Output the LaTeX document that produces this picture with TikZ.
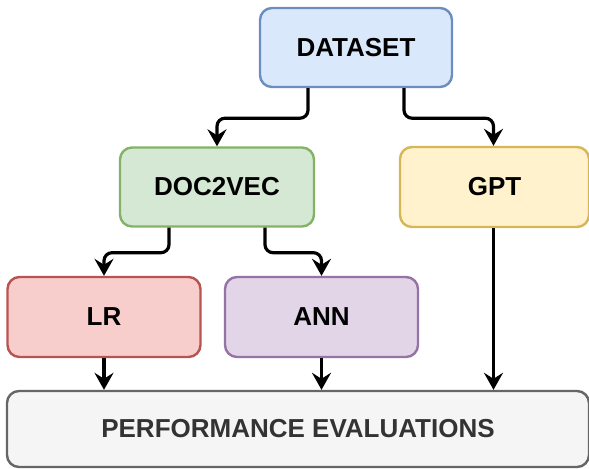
\documentclass[tikz,border=0pt]{standalone}
\usepackage{fontspec}
\setmainfont{Liberation Sans}
\usepackage{xcolor}
\usetikzlibrary{arrows.meta,calc,positioning}

\definecolor{blueF}{HTML}{DAE8FC}\definecolor{blueD}{HTML}{6C8EBF}
\definecolor{greenF}{HTML}{D5E8D4}\definecolor{greenD}{HTML}{82B366}
\definecolor{yellowF}{HTML}{FFF2CC}\definecolor{yellowD}{HTML}{D6B656}
\definecolor{redF}{HTML}{F8CECC}\definecolor{redD}{HTML}{B85450}
\definecolor{purpleF}{HTML}{E1D5E7}\definecolor{purpleD}{HTML}{9673A6}
\definecolor{grayF}{HTML}{F5F5F5}\definecolor{grayD}{HTML}{666666}

\tikzset{%
	block/.style  = {draw, rectangle, rounded corners=6pt, line width=1.2pt, minimum width=96pt, minimum height=39.5pt, font=\bfseries\fontsize{13}{15}\selectfont}, % Box
	link/.style   = {-{Stealth[length=8.5pt,width=9.5pt,inset=3pt]}, line width=1.6pt, rounded corners=4pt}, % Arrow
}

\begin{document}
\begin{tikzpicture}[x=0.5pt,y=-0.5pt]
		\useasboundingbox (0,0) rectangle (589,468);
		\node[block, fill=blueF, draw=blueD] (data) at (356,47.5) {DATASET};
		\node[block, fill=greenF, draw=greenD, minimum width=97pt] (doc) at (217,187) {DOC2VEC};
		\node[block, fill=yellowF, draw=yellowD, minimum width=94.5pt, minimum height=40pt] (gpt) at (494.5,187) {GPT};
		\node[block, fill=redF, draw=redD, minimum width=96.5pt, minimum height=40pt] (lr) at (104,317) {LR};
		\node[block, fill=purpleF, draw=purpleD, minimum width=96.5pt, minimum height=40pt] (ann) at (321.5,317) {ANN};
		\node[block, fill=grayF, draw=grayD, text=black!80, minimum width=291pt, minimum height=38pt] (perf) at (298,429) {PERFORMANCE EVALUATIONS};
		\draw[link] ([xshift=-24pt]data.south) -- ++(0,-15pt) -| (doc.north);
		\draw[link] ([xshift=24pt]data.south) -- ++(0,-15pt) -| ([xshift=-0.5pt]gpt.north);
		\draw[link] ([xshift=-24pt]doc.south) -- ++(0,-12.5pt) -| (lr.north);
		\draw[link] ([xshift=24pt]doc.south) -- ++(0,-12.5pt) -| (ann.north);
		\draw[link] (lr) -- (lr |- perf.north);
		\draw[link] (ann) -- (ann |- perf.north);
		\draw[link] ([xshift=-0.5pt]gpt.south) -- ([xshift=-0.5pt]gpt.south |- perf.north);
		\end{tikzpicture}
\end{document}
